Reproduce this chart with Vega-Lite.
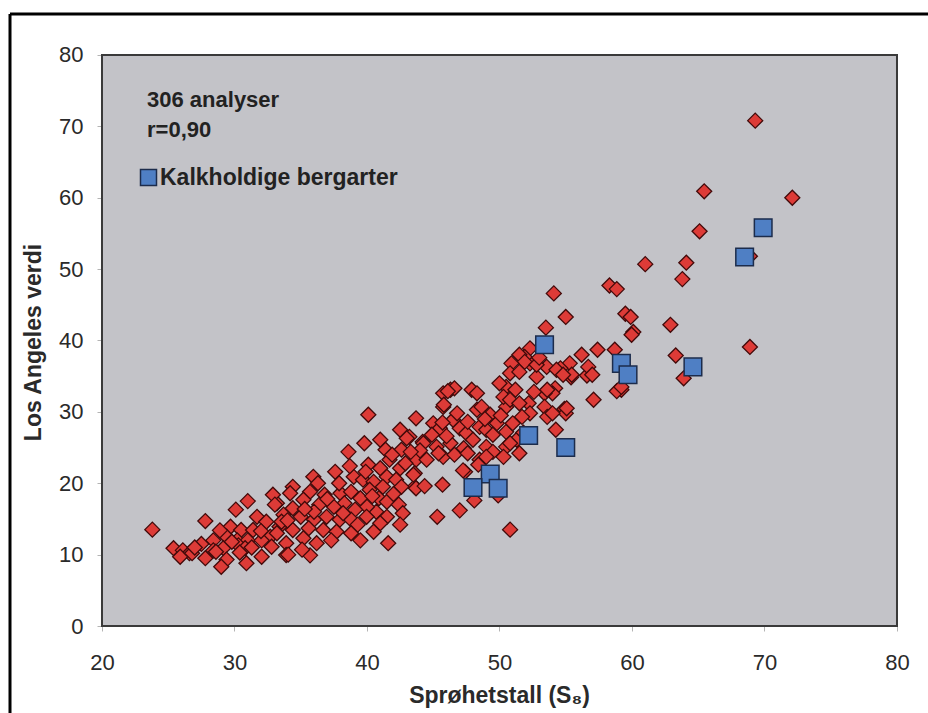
{
  "$schema": "https://vega.github.io/schema/vega-lite/v6.json",
  "width": 918,
  "height": 699,
  "autosize": "none",
  "padding": {"left": 10, "top": 14, "right": 0, "bottom": 0},
  "background": "white",
  "config": {"view": {"stroke": null}, "font": "Liberation Sans"},
  "datasets": {
    "alle": [
      {"S8":69.3,"LA":70.8},{"S8":72.1,"LA":60.0},{"S8":65.45,"LA":60.9},{"S8":65.1,"LA":55.3},{"S8":61.0,"LA":50.7},{"S8":64.1,"LA":50.9},{"S8":63.8,"LA":48.6},{"S8":68.9,"LA":51.8},{"S8":58.3,"LA":47.7},{"S8":58.85,"LA":47.2},{"S8":54.1,"LA":46.6},{"S8":55.0,"LA":43.3},{"S8":59.5,"LA":43.75},{"S8":59.9,"LA":43.3},{"S8":60.1,"LA":41.2},{"S8":62.9,"LA":42.2},{"S8":53.5,"LA":41.8},{"S8":68.9,"LA":39.1},{"S8":63.3,"LA":37.9},{"S8":63.9,"LA":34.7},{"S8":57.4,"LA":38.7},{"S8":58.7,"LA":38.7},{"S8":56.2,"LA":38.0},{"S8":57.1,"LA":31.7},{"S8":59.2,"LA":33.1},{"S8":58.85,"LA":32.9},{"S8":56.6,"LA":35.1},{"S8":55.3,"LA":36.8},{"S8":55.4,"LA":34.85},{"S8":54.9,"LA":30.4},{"S8":55.0,"LA":29.8},{"S8":54.25,"LA":27.5},{"S8":50.8,"LA":13.5},{"S8":45.3,"LA":15.3},{"S8":47.0,"LA":16.2},{"S8":45.7,"LA":19.8},{"S8":23.8,"LA":13.5},{"S8":40.1,"LA":29.6},
      {"S8":59.97,"LA":40.8},{"S8":52.3,"LA":38.9},{"S8":56.7,"LA":36.3},{"S8":57.0,"LA":35.2},{"S8":55.45,"LA":35.2},{"S8":54.6,"LA":36.1},{"S8":53.56,"LA":36.3},{"S8":52.8,"LA":34.9},{"S8":52.3,"LA":36.8},{"S8":51.9,"LA":37.7},{"S8":59.2,"LA":33.5},{"S8":55.07,"LA":30.5},{"S8":54.2,"LA":33.3},{"S8":54.0,"LA":32.6},{"S8":53.4,"LA":32.6},{"S8":52.2,"LA":31.2},{"S8":53.4,"LA":30.7},{"S8":52.3,"LA":29.8},{"S8":53.6,"LA":29.3},
      {"S8":51.5,"LA":38.0},{"S8":51.9,"LA":37.0},{"S8":50.9,"LA":36.8},{"S8":52.8,"LA":36.6},{"S8":50.8,"LA":35.4},{"S8":51.5,"LA":35.6},{"S8":54.3,"LA":35.9},{"S8":54.8,"LA":35.2},{"S8":50.5,"LA":33.5},{"S8":51.2,"LA":33.1},{"S8":53.6,"LA":33.1},{"S8":46.3,"LA":33.1},{"S8":46.6,"LA":33.3},{"S8":45.75,"LA":32.6},{"S8":47.9,"LA":33.1},{"S8":48.3,"LA":32.6},{"S8":45.75,"LA":30.7},{"S8":48.3,"LA":30.3},{"S8":48.65,"LA":30.7},{"S8":49.3,"LA":29.6},{"S8":50.5,"LA":30.7},{"S8":50.3,"LA":32.1},{"S8":50.8,"LA":31.7},{"S8":51.5,"LA":31.2},{"S8":51.7,"LA":29.3},{"S8":54.0,"LA":29.8},{"S8":43.7,"LA":29.1},{"S8":45.0,"LA":28.4},{"S8":45.5,"LA":27.7},{"S8":46.5,"LA":28.9},{"S8":47.0,"LA":27.7},{"S8":47.5,"LA":27.0},{"S8":48.5,"LA":27.9},{"S8":49.0,"LA":27.5},{"S8":49.8,"LA":28.4},{"S8":50.5,"LA":27.2},{"S8":51.3,"LA":26.1},{"S8":43.2,"LA":26.5},{"S8":44.2,"LA":25.8},{"S8":45.25,"LA":25.1},{"S8":46.3,"LA":25.6},{"S8":47.3,"LA":24.9},{"S8":48.0,"LA":26.1},{"S8":49.0,"LA":25.1},{"S8":49.5,"LA":24.4},{"S8":50.5,"LA":25.1},{"S8":50.8,"LA":25.6},{"S8":51.5,"LA":24.2},{"S8":43.7,"LA":23.3},{"S8":44.5,"LA":23.3},{"S8":45.75,"LA":23.7},{"S8":46.6,"LA":24.0},{"S8":47.6,"LA":24.2},{"S8":48.5,"LA":23.3},{"S8":49.0,"LA":23.7},{"S8":50.3,"LA":23.7},{"S8":48.4,"LA":22.6},{"S8":47.4,"LA":21.6},{"S8":43.6,"LA":21.4},{"S8":43.6,"LA":19.5},{"S8":49.9,"LA":18.3},{"S8":48.1,"LA":17.6},
      {"S8":42.5,"LA":27.5},{"S8":43.0,"LA":26.3},{"S8":44.25,"LA":25.6},{"S8":38.6,"LA":24.4},{"S8":39.8,"LA":25.6},{"S8":41.0,"LA":26.1},{"S8":41.4,"LA":24.7},{"S8":42.6,"LA":24.7},{"S8":40.1,"LA":22.6},{"S8":41.7,"LA":23.3},{"S8":41.0,"LA":22.1},{"S8":42.5,"LA":22.1},{"S8":43.5,"LA":21.2},{"S8":37.6,"LA":21.6},{"S8":39.0,"LA":20.9},{"S8":39.7,"LA":20.5},{"S8":40.5,"LA":20.2},{"S8":41.5,"LA":20.9},{"S8":42.2,"LA":20.5},{"S8":43.7,"LA":19.3},{"S8":42.6,"LA":19.5},{"S8":35.95,"LA":20.9},{"S8":36.3,"LA":20.0},{"S8":34.4,"LA":19.5},{"S8":34.2,"LA":18.6},{"S8":35.7,"LA":18.8},{"S8":36.8,"LA":18.4},{"S8":38.0,"LA":18.6},{"S8":38.8,"LA":18.8},{"S8":39.5,"LA":17.9},{"S8":40.2,"LA":19.1},{"S8":40.9,"LA":17.9},{"S8":41.5,"LA":17.4},{"S8":42.4,"LA":17.0},{"S8":42.7,"LA":15.8},{"S8":42.5,"LA":14.2},{"S8":41.5,"LA":15.3},{"S8":40.7,"LA":16.0},{"S8":40.0,"LA":16.7},{"S8":39.1,"LA":16.3},{"S8":38.3,"LA":17.2},{"S8":37.5,"LA":16.7},{"S8":36.4,"LA":17.0},{"S8":35.2,"LA":17.7},{"S8":34.4,"LA":16.5},{"S8":33.2,"LA":17.2},{"S8":32.9,"LA":18.4},{"S8":33.7,"LA":15.6},{"S8":35.0,"LA":15.3},{"S8":36.0,"LA":14.9},{"S8":36.95,"LA":15.3},{"S8":37.95,"LA":14.9},{"S8":38.8,"LA":14.9},{"S8":39.97,"LA":15.3},{"S8":41.0,"LA":14.4},{"S8":33.4,"LA":13.9},{"S8":34.4,"LA":13.45},{"S8":35.6,"LA":13.7},{"S8":36.7,"LA":13.45},{"S8":37.7,"LA":13.2},{"S8":38.8,"LA":13.0},{"S8":39.5,"LA":12.0},{"S8":40.5,"LA":13.2},{"S8":41.6,"LA":11.6},{"S8":37.3,"LA":12.0},{"S8":36.2,"LA":11.6},{"S8":35.2,"LA":12.3},{"S8":33.9,"LA":11.6},{"S8":32.7,"LA":12.5},
      {"S8":27.8,"LA":14.7},{"S8":30.1,"LA":16.3},{"S8":31.0,"LA":17.5},{"S8":33.05,"LA":17.0},{"S8":31.7,"LA":15.3},{"S8":32.4,"LA":14.6},{"S8":33.55,"LA":14.6},{"S8":29.7,"LA":13.9},{"S8":30.5,"LA":13.45},{"S8":31.4,"LA":13.45},{"S8":29.4,"LA":12.5},{"S8":28.4,"LA":12.0},{"S8":30.2,"LA":12.0},{"S8":31.0,"LA":12.0},{"S8":32.05,"LA":12.0},{"S8":33.2,"LA":13.0},{"S8":25.4,"LA":10.9},{"S8":26.1,"LA":10.6},{"S8":26.6,"LA":10.2},{"S8":25.9,"LA":9.7},{"S8":27.8,"LA":9.5},{"S8":28.4,"LA":10.6},{"S8":29.15,"LA":10.9},{"S8":29.4,"LA":9.3},{"S8":29.0,"LA":8.3},{"S8":30.3,"LA":11.3},{"S8":30.8,"LA":10.9},{"S8":30.9,"LA":8.8},{"S8":32.05,"LA":9.7},{"S8":30.4,"LA":10.3},{"S8":32.8,"LA":11.1},{"S8":33.9,"LA":9.95},
      {"S8":34.05,"LA":10.0},{"S8":35.7,"LA":9.9},{"S8":35.1,"LA":10.7},{"S8":44.35,"LA":19.6},{"S8":47.25,"LA":21.8},{"S8":26.8,"LA":10.2},{"S8":27.5,"LA":11.5},{"S8":28.6,"LA":10.4},{"S8":27.0,"LA":11.0},{"S8":45.8,"LA":31.0},{"S8":46.1,"LA":32.9},{"S8":45.7,"LA":28.5},
      {"S8":36.0,"LA":16.0},{"S8":37.0,"LA":17.8},{"S8":38.2,"LA":15.8},{"S8":39.3,"LA":14.2},{"S8":40.4,"LA":18.2},{"S8":41.2,"LA":19.5},{"S8":42.0,"LA":18.5},{"S8":42.9,"LA":22.8},{"S8":44.0,"LA":24.6},{"S8":44.9,"LA":26.8},{"S8":45.4,"LA":24.2},{"S8":46.0,"LA":26.6},{"S8":46.8,"LA":29.8},{"S8":47.6,"LA":28.6},{"S8":48.9,"LA":29.0},{"S8":49.5,"LA":26.8},{"S8":50.1,"LA":29.5},{"S8":51.0,"LA":28.4},{"S8":51.8,"LA":27.1},{"S8":50.0,"LA":34.0},{"S8":52.6,"LA":32.8},{"S8":53.0,"LA":37.6},{"S8":37.9,"LA":20.0},{"S8":35.3,"LA":16.4},{"S8":34.0,"LA":14.8},{"S8":32.0,"LA":13.3},{"S8":31.3,"LA":11.0},{"S8":29.8,"LA":11.8},{"S8":28.9,"LA":13.4},{"S8":39.9,"LA":21.6},{"S8":41.9,"LA":24.0},{"S8":43.3,"LA":24.4},{"S8":38.7,"LA":22.4}
    ],
    "kalk": [
      {"S8":69.9,"LA":55.8,"art":"Kalkholdige bergarter"},{"S8":68.5,"LA":51.7,"art":"Kalkholdige bergarter"},{"S8":53.4,"LA":39.4,"art":"Kalkholdige bergarter"},{"S8":59.2,"LA":36.8,"art":"Kalkholdige bergarter"},{"S8":59.7,"LA":35.2,"art":"Kalkholdige bergarter"},{"S8":64.6,"LA":36.3,"art":"Kalkholdige bergarter"},{"S8":52.2,"LA":26.7,"art":"Kalkholdige bergarter"},{"S8":55.0,"LA":25.0,"art":"Kalkholdige bergarter"},{"S8":49.3,"LA":21.3,"art":"Kalkholdige bergarter"},{"S8":48.0,"LA":19.4,"art":"Kalkholdige bergarter"},{"S8":49.9,"LA":19.3,"art":"Kalkholdige bergarter"}
    ]
  },
  "layer": [
    {
      "data": {"values": [{}]},
      "mark": {"type": "rect", "fill": "#c3c3c8", "stroke": "#3a3a3a", "strokeWidth": 2},
      "encoding": {
        "x": {"datum": 20, "type": "quantitative", "title": "Sprøhetstall (S₈)",
          "scale": {"domain": [13.057, 82.34], "nice": false, "zero": false},
          "axis": {"values": [20, 30, 40, 50, 60, 70, 80], "domain": false, "grid": false, "offset": -87,
            "tickSize": 5, "tickColor": "#b4b4b4", "labelFontSize": 22, "labelColor": "#2a2a2a",
            "labelPadding": 21, "labelFlush": false, "labelOverlap": false, "labelBound": false,
            "titleFontSize": 23, "titleFontWeight": "bold", "titleColor": "#2a2a2a",
            "titleX": 489, "titleY": 76, "titleBaseline": "alphabetic", "titleAlign": "center", "titleAnchor": null}},
        "x2": {"datum": 80},
        "y": {"datum": 0, "type": "quantitative", "title": "Los Angeles verdi",
          "scale": {"domain": [-12.189, 85.744], "nice": false, "zero": false},
          "axis": {"values": [0, 10, 20, 30, 40, 50, 60, 70, 80], "domain": false, "grid": false, "offset": -92,
            "tickSize": 5, "tickColor": "#b4b4b4", "labelFontSize": 22, "labelColor": "#2a2a2a",
            "labelPadding": 14, "labelFlush": false, "labelOverlap": false, "labelBound": false,
            "titleFontSize": 23, "titleFontWeight": "bold", "titleColor": "#2a2a2a",
            "titleX": -62, "titleY": 328, "titleAngle": 270, "titleBaseline": "alphabetic", "titleAlign": "center", "titleAnchor": null}},
        "y2": {"datum": 80}
      }
    },
    {
      "data": {"values": [{}]},
      "mark": {"type": "rule", "stroke": "#000000", "strokeWidth": 3},
      "encoding": {"y": {"datum": 85.744, "type": "quantitative", "title": "Los Angeles verdi"}}
    },
    {
      "data": {"values": [{}]},
      "mark": {"type": "rule", "stroke": "#000000", "strokeWidth": 3},
      "encoding": {"x": {"datum": 13.057, "type": "quantitative", "title": "Sprøhetstall (S₈)"}}
    },
    {
      "data": {"name": "alle"},
      "mark": {"type": "point", "shape": "diamond", "filled": true, "fill": "#dd3b37", "stroke": "#420a0a", "strokeWidth": 1.3, "size": 225, "opacity": 1},
      "encoding": {
        "x": {"field": "S8", "type": "quantitative", "title": "Sprøhetstall (S₈)"},
        "y": {"field": "LA", "type": "quantitative", "title": "Los Angeles verdi"}
      }
    },
    {
      "data": {"name": "kalk"},
      "mark": {"type": "point", "shape": "square", "filled": true, "stroke": "#1c2c4c", "strokeWidth": 1.5, "size": 310, "opacity": 1},
      "encoding": {
        "x": {"field": "S8", "type": "quantitative", "title": "Sprøhetstall (S₈)"},
        "y": {"field": "LA", "type": "quantitative", "title": "Los Angeles verdi"},
        "color": {"field": "art", "type": "nominal", "scale": {"range": ["#4f7fc4"]},
          "legend": {"title": null, "orient": "none", "legendX": 127, "legendY": 152, "padding": 0,
            "symbolType": "square", "symbolSize": 256, "symbolStrokeColor": "#1c2c4c", "symbolStrokeWidth": 1.5, "symbolOpacity": 1,
            "labelFontSize": 23, "labelFontWeight": "bold", "labelColor": "#222222", "labelOffset": 0, "labelLimit": 400}}
      }
    },
    {
      "data": {"values": [{}]},
      "mark": {"type": "text", "align": "left", "baseline": "alphabetic", "fontSize": 22, "fontWeight": "bold", "color": "#222222"},
      "encoding": {
        "x": {"datum": 23.4, "type": "quantitative", "title": "Sprøhetstall (S₈)"},
        "y": {"datum": 72.71, "type": "quantitative", "title": "Los Angeles verdi"},
        "text": {"value": "306 analyser"}
      }
    },
    {
      "data": {"values": [{}]},
      "mark": {"type": "text", "align": "left", "baseline": "alphabetic", "fontSize": 22, "fontWeight": "bold", "color": "#222222"},
      "encoding": {
        "x": {"datum": 23.4, "type": "quantitative", "title": "Sprøhetstall (S₈)"},
        "y": {"datum": 68.51, "type": "quantitative", "title": "Los Angeles verdi"},
        "text": {"value": "r=0,90"}
      }
    }
  ]
}
